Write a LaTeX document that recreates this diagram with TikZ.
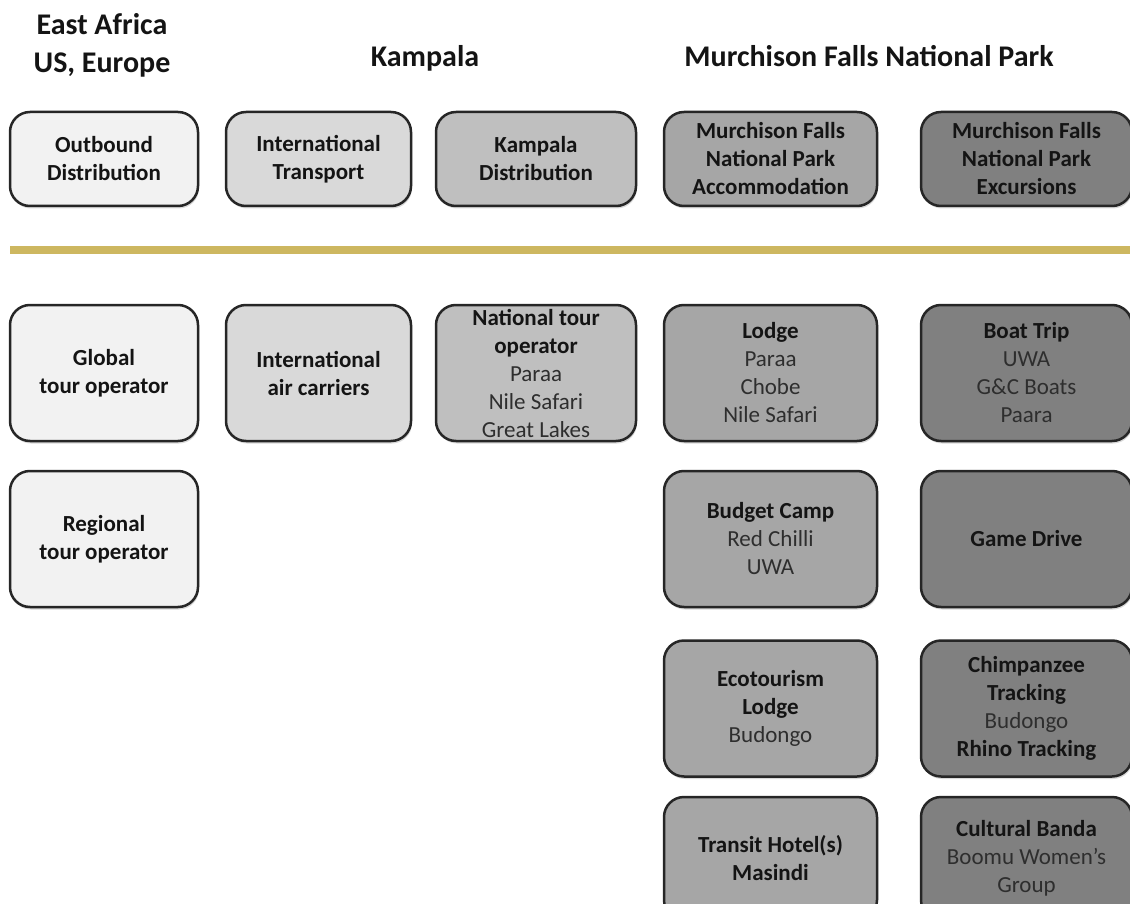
\documentclass[tikz,border=0pt]{standalone}
\usepackage{fontspec}
\setmainfont{Carlito}
\usetikzlibrary{shadows}
\definecolor{or}{RGB}{205,183,96}
\newcommand{\lite}[1]{{\mdseries\color{black!82}#1}}

\begin{document}
\begin{tikzpicture}[x=1pt,y=-1pt]
  \tikzstyle{bloc}=[draw=black!85, line width=2.5pt, rounded corners=20pt,
  align=center, inner sep=0pt, text=black!92,
  font=\bfseries\fontsize{23}{28}\selectfont,
  drop shadow={shadow xshift=1pt, shadow yshift=-2.5pt, opacity=.3}]
  \tikzstyle{titre}=[align=center, anchor=base, text=black!92,
  font=\bfseries\fontsize{30}{38}\selectfont]
  \tikzstyle{filet}=[draw=or, line width=8pt]
  \tikzstyle{zone1}=[fill=black!5, minimum width=188pt]
  \tikzstyle{zone2}=[fill=black!15, minimum width=185pt]
  \tikzstyle{zone3}=[fill=black!25, minimum width=200pt]
  \tikzstyle{zone4}=[fill=black!35, minimum width=213pt]
  \tikzstyle{zone5}=[fill=black!50, minimum width=211pt]
  \tikzstyle{rang1}=[minimum height=94pt]
  \tikzstyle{rang2}=[minimum height=136pt]
  \tikzstyle{rang5}=[minimum height=123pt]
  \useasboundingbox (0,0) rectangle (1130,904);
  \node[titre] (est) at (102,73) {East Africa\\US, Europe};
  \node[titre] (kla) at (425,67) {Kampala};
  \node[titre] (mfnp) at (869,67) {Murchison Falls National Park};
  \coordinate (g) at (10,250);
  \coordinate (d) at (1132,250);
  \draw[filet, drop shadow={shadow yshift=-2pt, opacity=.2}] (g) -- (d);
  \foreach \n/\x/\y/\c/\r/\t in {
    out/104/159/1/1/{Outbound\\Distribution},
    tra/318.5/159/2/1/{International\\Transport},
    kam/536/159/3/1/{Kampala\\Distribution},
    acc/770.5/159/4/1/{Murchison Falls\\National Park\\Accommodation},
    exc/1026.5/159/5/1/{Murchison Falls\\National Park\\Excursions},
    glo/104/373/1/2/{Global\\tour operator},
    air/318.5/373/2/2/{International\\air carriers},
    nat/536/373/3/2/{National tour\\operator\\\lite{Paraa}\\\lite{Nile Safari}\\\lite{Great Lakes}},
    lod/770.5/373/4/2/{Lodge\\\lite{Paraa}\\\lite{Chobe}\\\lite{Nile Safari}},
    boa/1026.5/373/5/2/{Boat Trip\\\lite{UWA}\\\lite{G\&C Boats}\\\lite{Paara}},
    reg/104/539/1/2/{Regional\\tour operator},
    bud/770.5/539/4/2/{Budget Camp\\\lite{Red Chilli}\\\lite{UWA}},
    gam/1026.5/539/5/2/{Game Drive},
    eco/770.5/708.5/4/2/{Ecotourism\\Lodge\\\lite{Budongo}},
    chi/1026.5/708.5/5/2/{Chimpanzee\\Tracking\\\lite{Budongo}\\Rhino Tracking},
    hot/770.5/858.5/4/5/{Transit Hotel(s)\\Masindi},
    cul/1026.5/858.5/5/5/{Cultural Banda\\\lite{Boomu Women’s}\\\lite{Group}}} {
    \node[bloc, zone\c, rang\r] (\n) at (\x,\y) {\t};
  }
\end{tikzpicture}
\end{document}
